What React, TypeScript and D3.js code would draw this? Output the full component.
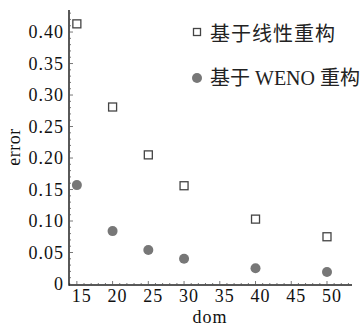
import { useEffect, useRef } from 'react';
import * as d3 from 'd3';

const domValues = [15, 20, 25, 30, 40, 50];
const linearError = [0.413, 0.281, 0.205, 0.156, 0.103, 0.075];
const wenoError = [0.157, 0.084, 0.054, 0.04, 0.025, 0.019];
const xTicks = [15, 20, 25, 30, 35, 40, 45, 50];
const yTicks = [0, 0.05, 0.1, 0.15, 0.2, 0.25, 0.3, 0.35, 0.4];
const legendLabels = ['基于线性重构', '基于 WENO 重构'];

const FONT = 'Liberation Serif, Noto Sans CJK SC, serif';

function App() {
  const svgRef = useRef<SVGSVGElement>(null);

  useEffect(() => {
    const width = 360;
    const height = 327;
    const svg = d3.select(svgRef.current);
    svg.selectAll('*').remove();
    svg.attr('width', width).attr('height', height)
      .attr('font-family', FONT);

    const x = d3.scaleLinear().domain([13.9, 53.5]).range([69, 352]);
    const y = d3.scaleLinear().domain([0, 0.435]).range([284, 10]);
    const axisY = 285;

    // x axis
    svg.append('line')
      .attr('x1', 69).attr('x2', 352)
      .attr('y1', axisY).attr('y2', axisY)
      .attr('stroke', '#222').attr('stroke-width', 1.5);

    d3.range(14, 54).forEach(v => {
      const major = v % 5 === 0;
      svg.append('line')
        .attr('x1', x(v)).attr('x2', x(v))
        .attr('y1', axisY).attr('y2', axisY - (major ? 4 : 2))
        .attr('stroke', '#555').attr('stroke-width', 0.8);
    });

    svg.append('g').selectAll('text')
      .data(xTicks)
      .join('text')
      .attr('x', d => x(d) + 5)
      .attr('y', 302)
      .attr('text-anchor', 'middle')
      .attr('font-size', 18)
      .attr('letter-spacing', 1)
      .attr('fill', '#111')
      .text(d => d);

    // y axis
    svg.append('line')
      .attr('x1', 69).attr('x2', 69)
      .attr('y1', 10).attr('y2', axisY + 0.75)
      .attr('stroke', '#222').attr('stroke-width', 1.5);

    d3.range(1, 44).forEach(i => {
      const v = i / 100;
      const major = i % 5 === 0;
      svg.append('line')
        .attr('x1', 69).attr('x2', 69 + (major ? 4 : 2))
        .attr('y1', y(v)).attr('y2', y(v))
        .attr('stroke', '#555').attr('stroke-width', 0.8);
    });

    svg.append('g').selectAll('text')
      .data(yTicks)
      .join('text')
      .attr('x', 64)
      .attr('y', d => y(d))
      .attr('dy', '0.35em')
      .attr('text-anchor', 'end')
      .attr('font-size', 18)
      .attr('letter-spacing', 1)
      .attr('fill', '#111')
      .text(d => (d === 0 ? '0' : d3.format('.2f')(d)));

    // axis titles
    svg.append('text')
      .attr('transform', 'rotate(-90)')
      .attr('x', -147)
      .attr('y', 20)
      .attr('text-anchor', 'middle')
      .attr('font-size', 18)
      .attr('letter-spacing', 0.5)
      .attr('fill', '#111')
      .text('error');

    svg.append('text')
      .attr('x', 210)
      .attr('y', 323)
      .attr('text-anchor', 'middle')
      .attr('font-size', 18)
      .attr('letter-spacing', 1)
      .attr('fill', '#111')
      .text('dom');

    // linear reconstruction: open squares
    svg.append('g').selectAll('rect')
      .data(domValues)
      .join('rect')
      .attr('x', (d) => x(d) - 4)
      .attr('y', (_, i) => y(linearError[i]) - 4)
      .attr('width', 8)
      .attr('height', 8)
      .attr('fill', 'white')
      .attr('stroke', '#444')
      .attr('stroke-width', 1.3);

    // WENO reconstruction: filled circles
    svg.append('g').selectAll('circle')
      .data(domValues)
      .join('circle')
      .attr('cx', d => x(d))
      .attr('cy', (_, i) => y(wenoError[i]))
      .attr('r', 5)
      .attr('fill', '#777');

    // legend
    svg.append('rect')
      .attr('x', 193.5).attr('y', 28.5)
      .attr('width', 7).attr('height', 7)
      .attr('fill', 'white')
      .attr('stroke', '#444')
      .attr('stroke-width', 1.3);
    svg.append('circle')
      .attr('cx', 197).attr('cy', 78)
      .attr('r', 5)
      .attr('fill', '#777');

    svg.append('g').selectAll('text')
      .data(legendLabels)
      .join('text')
      .attr('x', 210)
      .attr('y', (_, i) => 34 + i * 44)
      .attr('dy', '0.35em')
      .attr('font-size', 20)
      .attr('letter-spacing', (_, i) => (i === 0 ? 1 : 0))
      .attr('fill', '#222')
      .text(d => d);
  }, []);

  return (
    <div style={{ position: 'absolute', left: 0, top: 0 }}>
      <svg ref={svgRef} style={{ display: 'block' }}></svg>
    </div>
  );
}

export default App;
